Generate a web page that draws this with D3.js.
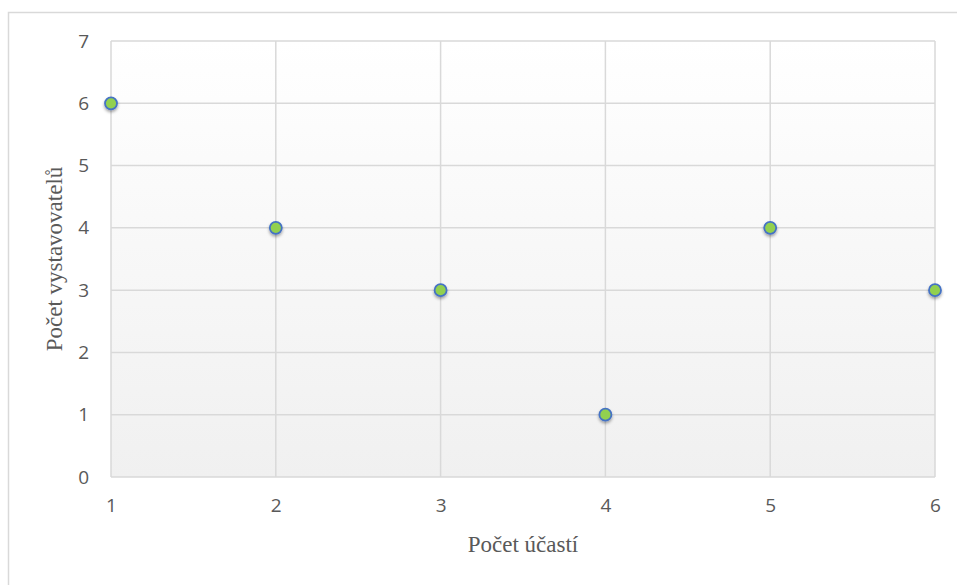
<!DOCTYPE html>
<html><head><meta charset="utf-8">
<script src="https://cdn.jsdelivr.net/npm/d3@7"></script>
<style>body{margin:0;background:#fff;}svg{display:block;}</style>
</head><body>
<script>
const xValues = [1, 2, 3, 4, 5, 6];
const yValues = [6, 4, 3, 1, 4, 3];
const yTicks = [0, 1, 2, 3, 4, 5, 6, 7];
const xTicks = [1, 2, 3, 4, 5, 6];
const xTitle = "Počet účastí";
const yTitle = "Počet vystavovatelů";

const W = 957, H = 585;
const m = {left: 111, right: 957 - 935, top: 41, bottom: 585 - 477};
const svg = d3.select("body").append("svg").attr("width", W).attr("height", H);
const defs = svg.append("defs");
const grad = defs.append("linearGradient").attr("id", "bg").attr("x1", 0).attr("y1", 0).attr("x2", 0).attr("y2", 1);
grad.append("stop").attr("offset", "0%").attr("stop-color", "#ffffff");
grad.append("stop").attr("offset", "100%").attr("stop-color", "#f0f0f0");
const filt = defs.append("filter").attr("id", "sh").attr("x", "-50%").attr("y", "-50%").attr("width", "200%").attr("height", "200%");
filt.append("feDropShadow").attr("dx", 0).attr("dy", 2).attr("stdDeviation", 1.5).attr("flood-color", "#000").attr("flood-opacity", 0.35);

// outer frame
svg.append("rect").attr("x", 8.5).attr("y", 12.5).attr("width", W + 10).attr("height", H + 10)
  .attr("fill", "none").attr("stroke", "#d9d9d9").attr("stroke-width", 1.5);

const x = d3.scaleLinear().domain([1, 6]).range([m.left, W - m.right]);
const y = d3.scaleLinear().domain([0, 7]).range([H - m.bottom, m.top]);

svg.append("rect").attr("x", x(1)).attr("y", y(7)).attr("width", x(6) - x(1)).attr("height", y(0) - y(7)).attr("fill", "url(#bg)");

const g = svg.append("g");
g.selectAll(".hg").data(yTicks).enter().append("line")
  .attr("x1", x(1)).attr("x2", x(6)).attr("y1", d => y(d)).attr("y2", d => y(d))
  .attr("stroke", "#d9d9d9").attr("stroke-width", 1.5);
g.selectAll(".vg").data(xTicks).enter().append("line")
  .attr("y1", y(0)).attr("y2", y(7)).attr("x1", d => x(d)).attr("x2", d => x(d))
  .attr("stroke", "#d9d9d9").attr("stroke-width", 1.5);

// axes labels via d3 axes
const yAxis = d3.axisLeft(y).tickValues(yTicks).tickSize(0).tickPadding(22).tickFormat(d3.format("d"));
const ya = svg.append("g").attr("transform", `translate(${m.left},0)`).call(yAxis);
ya.select(".domain").remove();
ya.selectAll("text").attr("font-family", "'Open Sans', 'Noto Sans', sans-serif").attr("font-size", 19).attr("fill", "#595959");

const xAxis = d3.axisBottom(x).tickValues(xTicks).tickSize(0).tickPadding(22).tickFormat(d3.format("d"));
const xa = svg.append("g").attr("transform", `translate(0,${y(0)})`).call(xAxis);
xa.select(".domain").remove();
xa.selectAll("text").attr("font-family", "'Open Sans', 'Noto Sans', sans-serif").attr("font-size", 19).attr("fill", "#595959");

svg.append("text").attr("x", (x(1) + x(6)) / 2).attr("y", 552).attr("text-anchor", "middle")
  .attr("font-family", "'Liberation Serif', 'Times New Roman', serif").attr("font-size", 23).attr("fill", "#595959").text(xTitle);
svg.append("text").attr("transform", `translate(62,${(y(0) + y(7)) / 2}) rotate(-90)`).attr("text-anchor", "middle")
  .attr("font-family", "'Liberation Serif', 'Times New Roman', serif").attr("font-size", 23).attr("fill", "#595959").text(yTitle);

const data = xValues.map((v, i) => ({x: v, y: yValues[i]}));
svg.append("g").selectAll("circle").data(data).enter().append("circle")
  .attr("cx", d => x(d.x)).attr("cy", d => y(d.y)).attr("r", 6)
  .attr("fill", "#92d050").attr("stroke", "#4472c4").attr("stroke-width", 1.8).attr("filter", "url(#sh)");
</script>
</body></html>
